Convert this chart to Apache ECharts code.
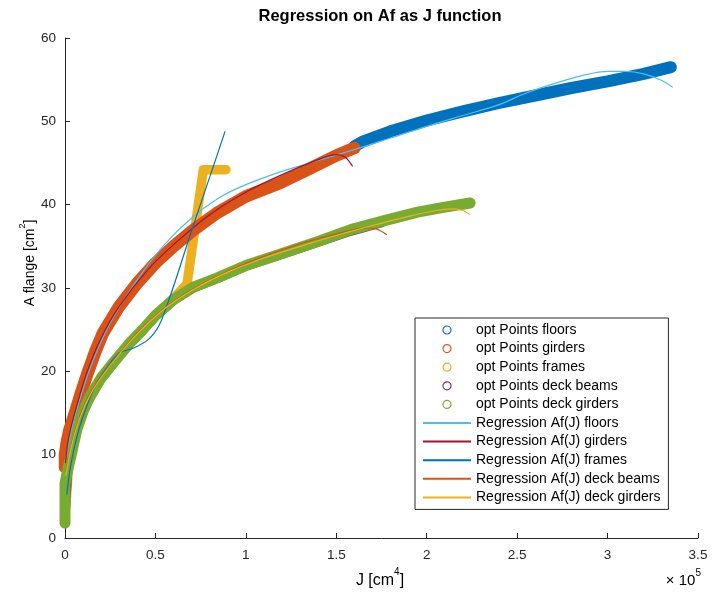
<!DOCTYPE html>
<html>
<head>
<meta charset="utf-8">
<title>Regression on Af as J function</title>
<script src="https://cdn.jsdelivr.net/npm/echarts@6/dist/echarts.min.js"></script>
<style>
  html, body { margin: 0; padding: 0; background: #fff; }
  #chart { width: 713px; height: 597px; }
</style>
</head>
<body>
<div id="chart"></div>
<script>
// Optimised points, [J (cm^4), A flange (cm^2)]
const optFloors = [
  [160000, 47.0], [165000, 47.6], [180000, 48.8], [200000, 50.1], [220000, 51.2],
  [240000, 52.2], [260000, 53.1], [280000, 54.0], [300000, 54.8], [320000, 55.7],
  [335000, 56.5]
];
const optGirders = [
  [0, 8.5], [0, 10.0], [1000, 11.5], [2500, 13.0], [5500, 15.0], [9000, 17.5], [12500, 19.8],
  [17000, 22.5], [21000, 24.6], [30000, 27.8], [40000, 30.6], [50000, 33.0],
  [60000, 35.0], [70000, 36.8], [84000, 39.0], [100000, 41.0], [119000, 42.6],
  [135000, 44.3], [150000, 45.9], [160000, 46.8]
];
const optFrames = [
  [0, 2.5], [2000, 8.5], [8000, 14.5], [20000, 19.2], [35000, 23.2], [50000, 26.7],
  [62000, 29.2], [67500, 30.5], [72000, 37.4], [76500, 44.2], [82000, 44.2], [89000, 44.2]
];
const optDeckBeams = [
  [0, 2.5], [1500, 8.0], [4000, 10.4], [6500, 12.8], [10000, 15.0], [13800, 16.8],
  [20000, 19.1], [26600, 20.9], [35000, 23.1], [43000, 24.9], [50000, 26.6],
  [60000, 28.5], [71000, 30.0], [84000, 31.1], [100000, 32.6], [121000, 34.1],
  [140000, 35.5], [158000, 36.8], [175000, 37.8]
];
const optDeckGirders = [
  [0, 1.8], [0, 4.0], [0, 6.5], [1500, 8.2], [4000, 10.5], [6500, 13.0], [10000, 15.2],
  [13800, 17.0], [20000, 19.2], [26600, 21.0], [35000, 23.2], [43000, 25.0],
  [50000, 26.7], [60000, 28.6], [71000, 30.1], [84000, 31.2], [100000, 32.7],
  [121000, 34.2], [140000, 35.6], [158000, 37.0], [175000, 38.0], [195000, 39.1],
  [210000, 39.7], [224000, 40.2]
];

// Fitted curves Af(J)
const regFloors = [
  [500, 9.0], [3000, 12.5], [8000, 16.5], [15000, 21.0], [25000, 25.8], [40000, 31.0],
  [55000, 35.2], [70000, 38.4], [85000, 40.8], [100000, 42.4], [120000, 44.0],
  [140000, 45.3], [160000, 46.6], [180000, 48.0], [200000, 49.4], [220000, 50.7],
  [240000, 52.0], [255000, 53.4], [270000, 54.5], [288000, 55.6], [300000, 56.0],
  [310000, 56.0], [320000, 55.7], [330000, 54.9], [336000, 54.1]
];
const regGirders = [
  [300, 9.0], [2000, 12.0], [6000, 15.5], [12000, 19.8], [20000, 24.0], [30000, 27.8],
  [45000, 32.0], [60000, 35.2], [80000, 38.8], [100000, 41.5], [120000, 43.6],
  [140000, 45.4], [150000, 46.0], [155000, 45.7], [159000, 44.6]
];
const regFrames = [
  [1000, 5.2], [3000, 8.5], [7000, 12.5], [12000, 15.8], [18000, 18.8], [25000, 21.0],
  [30000, 22.2], [38000, 22.8], [46000, 23.8], [52000, 25.5], [57000, 28.3],
  [62000, 31.5], [70000, 36.9], [80000, 43.3], [88500, 48.8]
];
const regDeckBeams = [
  [500, 8.0], [3000, 10.8], [8000, 14.5], [15000, 17.8], [25000, 20.8], [40000, 24.6],
  [55000, 27.6], [70000, 29.8], [90000, 32.0], [110000, 33.8], [130000, 35.3],
  [150000, 36.5], [165000, 37.2], [172000, 37.1], [178000, 36.4]
];
const regDeckGirders = [
  [500, 7.5], [3000, 10.5], [8000, 14.3], [15000, 17.6], [25000, 20.7], [40000, 24.5],
  [55000, 27.5], [70000, 29.7], [90000, 31.9], [110000, 33.6], [130000, 35.0],
  [150000, 36.3], [170000, 37.5], [190000, 38.6], [205000, 39.3], [215000, 39.5],
  [220000, 39.3], [224000, 38.8]
];

const xTicks = [0, 50000, 100000, 150000, 200000, 250000, 300000, 350000];
const yTicks = [0, 10, 20, 30, 40, 50, 60];

const FONT = '"Liberation Sans", Helvetica, Arial, sans-serif';
const AXIS = '#262626';
const C = {
  blue: '#0072BD', orange: '#D95319', yellow: '#EDB120', purple: '#7E2F8E',
  green: '#77AC30', cyan: '#4DBEEE', red: '#A2142F'
};

function band(name, data, color, width, z) {
  return {
    name: name, type: 'line', data: data, symbol: 'none', z: z,
    lineStyle: { color: color, width: width, cap: 'round', join: 'round' },
    itemStyle: { color: color }
  };
}
function fit(name, data, color) {
  return {
    name: name, type: 'line', data: data, symbol: 'none', smooth: 0.3, z: 6,
    lineStyle: { color: color, width: 1.2 },
    itemStyle: { color: color }
  };
}

const series = [
  band('opt Points floors', optFloors, C.blue, 12, 2),
  band('opt Points girders', optGirders, C.orange, 12.5, 4),
  band('opt Points frames', optFrames, C.yellow, 9.5, 3),
  band('opt Points deck beams', optDeckBeams, C.purple, 9, 4),
  band('opt Points deck girders', optDeckGirders, C.green, 11, 5),
  fit('Regression Af(J) floors', regFloors, C.cyan),
  fit('Regression Af(J) girders', regGirders, C.red),
  fit('Regression Af(J) frames', regFrames, C.blue),
  fit('Regression Af(J) deck beams', regDeckBeams, C.orange),
  fit('Regression Af(J) deck girders', regDeckGirders, C.yellow)
];

// Legend: open circles for the point sets, plain line segments for the fits
const pointColors = [C.blue, C.orange, C.yellow, C.purple, C.green];
const legendData = series.map(function (s, i) {
  if (i < 5) {
    return {
      name: s.name, icon: 'circle',
      itemStyle: { color: '#fff', borderColor: pointColors[i], borderWidth: 1.2 }
    };
  }
  return { name: s.name, itemStyle: { opacity: 0 } };
});

function supRich(size) {
  return {
    base: { fontSize: size, fontFamily: FONT, color: AXIS, lineHeight: size + 5, verticalAlign: 'bottom' },
    sup: { fontSize: Math.round(size * 0.65), fontFamily: FONT, color: AXIS, lineHeight: 9, verticalAlign: 'top' }
  };
}

const chart = echarts.init(document.getElementById('chart'), null, { renderer: 'canvas' });
chart.setOption({
  animation: false,
  backgroundColor: '#fff',
  title: {
    text: 'Regression on Af as J function',
    left: 375, top: 3, textAlign: 'center',
    textStyle: { fontFamily: FONT, fontSize: 16.5, fontWeight: 'bold', color: '#000' }
  },
  grid: { left: 65, right: 15, top: 38, bottom: 59, containLabel: false },
  xAxis: {
    type: 'value', min: xTicks[0], max: xTicks[xTicks.length - 1],
    interval: xTicks[1] - xTicks[0],
    axisLine: { show: true, onZero: false, lineStyle: { color: AXIS, width: 1 } },
    axisTick: { show: true, inside: true, length: 5, lineStyle: { color: AXIS } },
    splitLine: { show: false },
    axisLabel: {
      margin: 10, fontFamily: FONT, fontSize: 13.5, color: AXIS,
      formatter: function (v) { return String(v / 1e5); }
    }
  },
  yAxis: {
    type: 'value', min: yTicks[0], max: yTicks[yTicks.length - 1],
    interval: yTicks[1] - yTicks[0],
    axisLine: { show: true, onZero: false, lineStyle: { color: AXIS, width: 1 } },
    axisTick: { show: true, inside: true, length: 5, lineStyle: { color: AXIS } },
    splitLine: { show: false },
    axisLabel: { margin: 9, fontFamily: FONT, fontSize: 13.5, color: AXIS }
  },
  legend: {
    orient: 'vertical', left: 415, top: 318,
    padding: [5, 8, 5, 7],
    itemWidth: 48, itemHeight: 8, itemGap: 4.6,
    backgroundColor: '#fff', borderColor: AXIS, borderWidth: 1,
    textStyle: { fontFamily: FONT, fontSize: 14, color: '#000' },
    data: legendData
  },
  graphic: [
    {
      type: 'text', x: 380, y: 578,
      style: { text: '{base|J [cm}{sup|4}{base|]}', rich: supRich(16), align: 'center', verticalAlign: 'middle' }
    },
    {
      type: 'text', x: 28, y: 263, rotation: Math.PI / 2,
      style: { text: '{base|A flange [cm}{sup|2}{base|]}', rich: supRich(14), align: 'center', verticalAlign: 'middle' }
    },
    {
      type: 'text', x: 701, y: 578,
      style: { text: '{base|× 10}{sup|5}', rich: supRich(15), align: 'right', verticalAlign: 'middle' }
    }
  ],
  series: series
});
</script>
</body>
</html>
